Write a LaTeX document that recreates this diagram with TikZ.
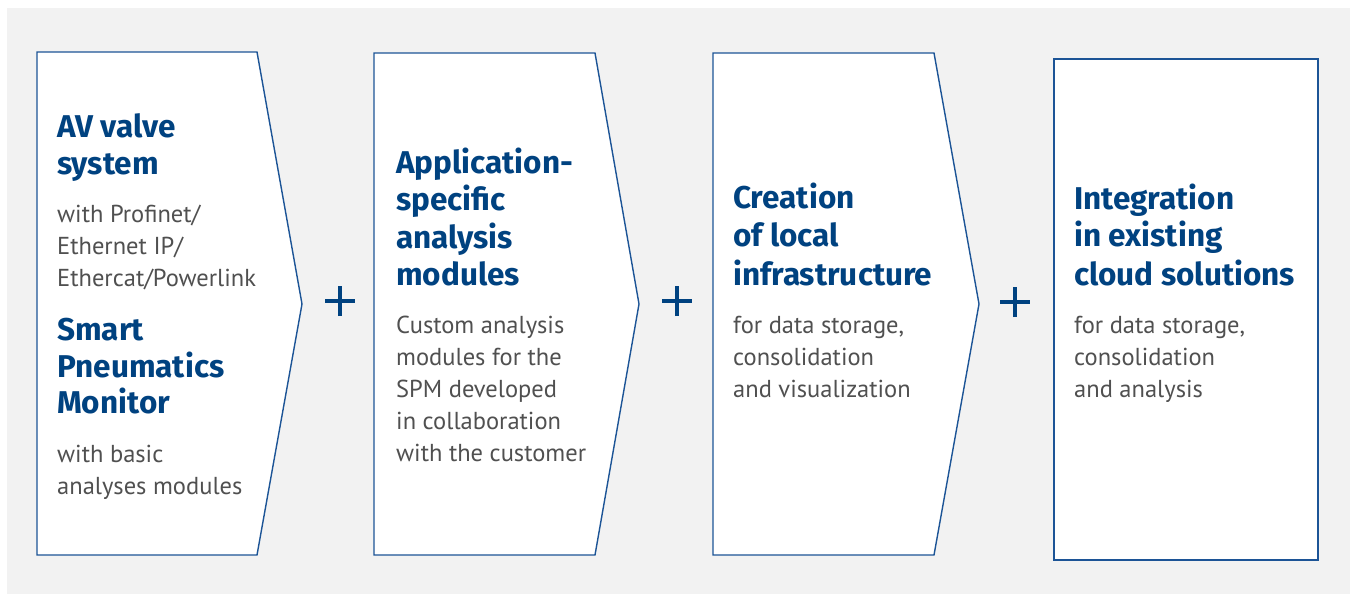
\documentclass[tikz,border=0pt]{standalone}
\usepackage{fontspec}
\setmainfont{PT Sans}
\newfontfamily\headfont{Fira Sans}
\definecolor{bgray}{RGB}{242,242,242}
\definecolor{hblue}{RGB}{0,66,128}
\definecolor{lblue}{RGB}{28,84,150}
\definecolor{tgray}{RGB}{80,80,80}
\begin{document}
\begin{tikzpicture}[x=1pt,y=-1pt,
  panel/.style={draw=lblue,line width=1.4pt,fill=white,line join=miter},
  head/.style={anchor=base west,inner sep=0pt,text=hblue,font=\headfont\fontsize{31.5}{37}\selectfont\bfseries},
  body/.style={anchor=base west,inner sep=0pt,text=tgray,font=\fontsize{24.5}{32}\selectfont},
  plusbar/.style={draw=hblue,line width=4.5pt}]
\useasboundingbox (0,0) rectangle (1354,594);
\fill[white] (0,0) rectangle (1354,594);
\fill[bgray] (7,8) rectangle (1350,594);
% panels
\draw[panel] (37,52) coordinate (p1a) -- (257,52) -- (302,304) coordinate (p1tip) -- (257,555) -- (37,555) -- cycle;
\draw[panel] (374,53) coordinate (p2a) -- (595,53) -- (639,304) coordinate (p2tip) -- (595,555) -- (374,555) -- cycle;
\draw[panel] (713,53) coordinate (p3a) -- (934,53) -- (979,304) coordinate (p3tip) -- (934,555) -- (713,555) -- cycle;
\draw[panel,line width=1.8pt] (1054,59) coordinate (p4a) rectangle (1318,560);
% plus signs
\coordinate (plus1) at (340,301);
\coordinate (plus2) at (677,301);
\coordinate (plus3) at (1015,302);
\foreach \p in {plus1,plus2,plus3}{
  \draw[plusbar] ([xshift=-15pt]\p) -- ([xshift=15pt]\p);
  \draw[plusbar] ([yshift=-15pt]\p) -- ([yshift=15pt]\p);
}
% panel 1
\node[head] (a1) at (57,137) {AV valve};
\node[head] (a2) at (57,174) {system};
\node[body] (a3) at (57,222) {with Profinet/};
\node[body] (a4) at (57,254) {Ethernet IP/};
\node[body] (a5) at (57,286) {Ethercat/Powerlink};
\node[head] (a6) at (57,340) {Smart};
\node[head] (a7) at (57,377) {Pneumatics};
\node[head] (a8) at (57,413) {Monitor};
\node[body] (a9) at (57,462) {with basic};
\node[body] (a10) at (57,494) {analyses modules};
% panel 2
\node[head] (b1) at (396,173) {Application-};
\node[head] (b2) at (396,210) {specific};
\node[head] (b3) at (396,248) {analysis};
\node[head] (b4) at (396,285) {modules};
\node[body] (b5) at (396,333) {Custom analysis};
\node[body] (b6) at (396,365) {modules for the};
\node[body] (b7) at (396,397) {SPM developed};
\node[body] (b8) at (396,429) {in collaboration};
\node[body] (b9) at (396,461) {with the customer};
% panel 3
\node[head] (c1) at (733,208) {Creation};
\node[head] (c2) at (733,246) {of local};
\node[head] (c3) at (733,285) {infrastructure};
\node[body] (c4) at (733,333) {for data storage,};
\node[body] (c5) at (733,365) {consolidation};
\node[body] (c6) at (733,397) {and visualization};
% panel 4
\node[head] (d1) at (1074,209) {Integration};
\node[head] (d2) at (1074,246) {in existing};
\node[head] (d3) at (1074,285) {cloud solutions};
\node[body] (d4) at (1074,333) {for data storage,};
\node[body] (d5) at (1074,365) {consolidation};
\node[body] (d6) at (1074,397) {and analysis};
\end{tikzpicture}
\end{document}
